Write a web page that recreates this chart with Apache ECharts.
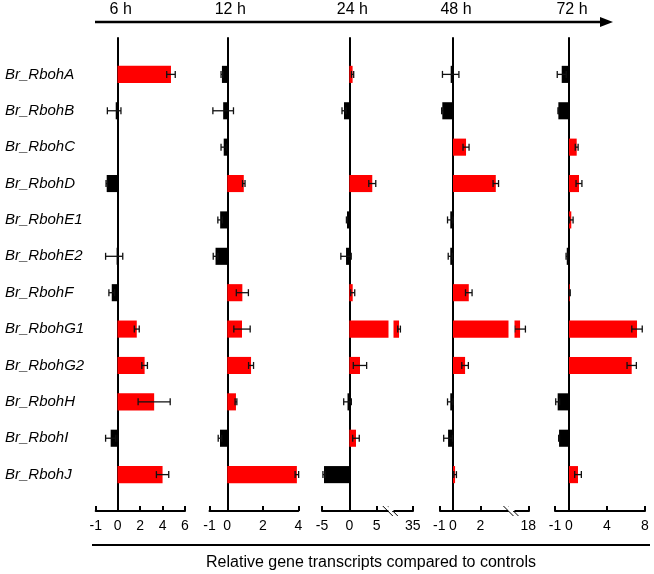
<!DOCTYPE html>
<html><head><meta charset="utf-8">
<script src="https://cdn.jsdelivr.net/npm/echarts@6/dist/echarts.min.js"></script>
<style>html,body{margin:0;padding:0;background:#fff}#c{width:654px;height:574px}</style>
</head><body><div id="c"></div>
<script>
const genes = ['Br_RbohA','Br_RbohB','Br_RbohC','Br_RbohD','Br_RbohE1','Br_RbohE2','Br_RbohF','Br_RbohG1','Br_RbohG2','Br_RbohH','Br_RbohI','Br_RbohJ'];
const timepoints = ['6 h','12 h','24 h','48 h','72 h'];

const val6h  = [4.75, -0.09, 0, -0.5, 0, -0.05, -0.27, 1.7, 2.4, 3.25, -0.32, 4.0];
const err6h  = [0.38, 0.38, 0, 0.03, 0, 0.5, 0.13, 0.22, 0.25, 1.43, 0.23, 0.55];
const val12h = [-0.3, -0.23, -0.2, 0.93, -0.4, -0.66, 0.85, 0.83, 1.34, 0.49, -0.41, 3.92];
const err12h = [0.05, 0.58, 0.15, 0.07, 0.13, 0.13, 0.34, 0.46, 0.14, 0.05, 0.1, 0.1];
const val24h = [0.6, -0.97, 0, 4.2, -0.43, -0.6, 0.62, 32.5, 1.95, -0.33, 1.22, -4.63];
const err24h = [0.2, 0.37, 0, 0.64, 0.1, 0.95, 0.37, 0.25, 1.22, 0.7, 0.6, 0.2];
const val48h = [-0.17, -0.78, 0.95, 3.12, -0.2, -0.2, 1.15, 17.4, 0.88, -0.2, -0.36, 0.15];
const err48h = [0.6, 0.05, 0.22, 0.2, 0.2, 0.15, 0.24, 0.39, 0.24, 0.2, 0.32, 0.1];
const val72h = [-0.52, -0.76, 0.81, 1.05, 0.24, -0.16, 0.08, 7.16, 6.6, -0.81, -0.71, 0.95];
const err72h = [0.32, 0.03, 0.15, 0.31, 0.19, 0.05, 0.05, 0.55, 0.49, 0.14, 0.03, 0.35];

const ticks6h  = [-1, 0, 2, 4, 6];
const ticks12h = [-1, 0, 2, 4];
const ticks24h = [-5, 0, 5, 35];
const ticks48h = [-1, 0, 2, 18];
const ticks72h = [-1, 0, 4, 8];

const xTitle = 'Relative gene transcripts compared to controls';

const values = [val6h, val12h, val24h, val48h, val72h];
const errors = [err6h, err12h, err24h, err48h, err72h];
const ticks = [ticks6h, ticks12h, ticks24h, ticks48h, ticks72h];

// layout per panel (pixel extents); "split" panels use a separate segment for the negative side
const panels = [
  {split: true, negLeft: 95.7, zero: 117.7, right: 185},
  {left: 209.5, right: 298.3},
  {left: 322, right: 412.7, breaks: [{start: 7.05, end: 31.35, gap: 0.9}]},
  {left: 439.3, right: 528.3, breaks: [{start: 4.0, end: 16.96, gap: 0.45}]},
  {split: true, negLeft: 555, zero: 569, right: 645}
];

const FONT = '"Liberation Sans", Arial, sans-serif';
const RED = '#ff0000', BLACK = '#000000';
const BAR_H = 0.47;
const GRID_TOP = 38, GRID_H = 473;
const LABEL_X = 5;

function barItem(params, api) {
  const v = api.value(0), idx = api.value(1);
  const p0 = api.coord([0, idx]);
  const p1 = api.coord([v, idx]);
  const h = api.size([0, BAR_H])[1];
  return {
    type: 'rect',
    shape: {x: Math.min(p0[0], p1[0]), y: p0[1] - h / 2, width: Math.abs(p1[0] - p0[0]), height: h},
    style: {fill: v >= 0 ? RED : BLACK}
  };
}
function errItem(params, api) {
  const v = api.value(0), idx = api.value(1), e = api.value(2);
  if (!e) return null;
  const a = api.coord([v - e, idx]);
  const b = api.coord([v + e, idx]);
  const y = a[1], c = 3.5;
  const st = {stroke: '#111', lineWidth: 1.3};
  return {
    type: 'group',
    children: [
      {type: 'line', shape: {x1: a[0], y1: y, x2: b[0], y2: y}, style: st},
      {type: 'line', shape: {x1: a[0], y1: y - c, x2: a[0], y2: y + c}, style: st},
      {type: 'line', shape: {x1: b[0], y1: y - c, x2: b[0], y2: y + c}, style: st}
    ]
  };
}

const grid = [], xAxis = [], yAxis = [], series = [];
const zeroAxisIndex = [];
const breakAxes = [];

function addSegment(opts) {
  const gi = grid.length;
  grid.push({left: opts.left, width: opts.right - opts.left, top: GRID_TOP, height: GRID_H});
  const xa = {
    type: 'value', gridIndex: gi, min: opts.min, max: opts.max,
    axisLine: {onZero: false, lineStyle: {color: '#000', width: 2}},
    axisTick: {inside: true, length: 5, lineStyle: {color: '#000', width: 2}, customValues: opts.ticks},
    axisLabel: {customValues: opts.ticks, color: '#000', fontSize: 14, fontFamily: FONT, margin: 8},
    splitLine: {show: false}
  };
  if (opts.breaks) {
    xa.breaks = opts.breaks;
    xa.breakArea = {show: true, itemStyle: {color: '#fff', borderColor: '#fff', borderWidth: 0, opacity: 1}, zigzagAmplitude: 0, zigzagZ: 100, expandOnClick: false};
    breakAxes.push({axis: gi, brk: opts.breaks[0]});
  }
  xAxis.push(xa);
  yAxis.push({
    type: 'value', gridIndex: gi, min: -1, max: 12, inverse: true,
    axisLine: {show: opts.zeroLine, onZero: opts.zeroLine, lineStyle: {color: '#000', width: 2}},
    axisTick: {show: false},
    axisLabel: opts.geneLabels ? {
      customValues: genes.map((g, k) => k),
      formatter: v => genes[v] || '',
      align: 'left',
      color: '#000', fontSize: 15, fontStyle: 'italic', fontFamily: FONT, margin: opts.left - LABEL_X
    } : {show: false},
    splitLine: {show: false}
  });
  const d = opts.values.map((v, k) => [v, k, opts.errors[k]]);
  series.push({type: 'custom', xAxisIndex: gi, yAxisIndex: gi, renderItem: barItem, data: d, encode: {x: 0, y: 1}, clip: opts.clip, z: 2});
  series.push({type: 'custom', xAxisIndex: gi, yAxisIndex: gi, renderItem: errItem, data: d, encode: {x: 0, y: 1}, clip: opts.clip, z: 3});
  return gi;
}

panels.forEach((p, i) => {
  const t = ticks[i];
  if (p.split) {
    const negT = t.filter(v => v < 0), posT = t.filter(v => v >= 0);
    addSegment({left: p.negLeft, right: p.zero, min: Math.min(...negT), max: 0, ticks: negT,
      values: values[i], errors: errors[i], clip: true, zeroLine: false, geneLabels: i === 0});
    zeroAxisIndex.push(addSegment({left: p.zero, right: p.right, min: 0, max: Math.max(...posT), ticks: posT,
      values: values[i], errors: errors[i], clip: true, zeroLine: true, geneLabels: false}));
  } else {
    zeroAxisIndex.push(addSegment({left: p.left, right: p.right, min: t[0], max: t[t.length - 1], ticks: t, breaks: p.breaks,
      values: values[i], errors: errors[i], clip: false, zeroLine: true, geneLabels: i === 0}));
  }
});

const chart = echarts.init(document.getElementById('c'), null, {renderer: 'canvas'});
chart.setOption({
  animation: false,
  backgroundColor: '#fff',
  grid, xAxis, yAxis, series
});

// decorations: timeline arrow, time labels, bottom line, axis title, break marks
const g = [];
g.push({type: 'line', shape: {x1: 95, y1: 22, x2: 604, y2: 22}, style: {stroke: '#000', lineWidth: 2.5}});
g.push({type: 'polygon', shape: {points: [[613, 22], [600, 17], [600, 27]]}, style: {fill: '#000'}});
timepoints.forEach((t, i) => {
  const zx = chart.convertToPixel({xAxisIndex: zeroAxisIndex[i]}, 0);
  g.push({type: 'text', x: zx + 3, y: 10, style: {text: t, fill: '#000', font: '16px ' + FONT, align: 'center', verticalAlign: 'middle'}});
});
g.push({type: 'line', shape: {x1: 92, y1: 545, x2: 650, y2: 545}, style: {stroke: '#000', lineWidth: 2}});
g.push({type: 'text', x: 371, y: 563, style: {text: xTitle, fill: '#000', font: '16px ' + FONT, align: 'center', verticalAlign: 'middle'}});
breakAxes.forEach(b => {
  const xa = chart.convertToPixel({xAxisIndex: b.axis}, b.brk.start);
  const xb = chart.convertToPixel({xAxisIndex: b.axis}, b.brk.end);
  const m = (xa + xb) / 2, y = GRID_TOP + GRID_H;
  [-2.5, 2.5].forEach(o => {
    g.push({type: 'line', shape: {x1: m + o - 5, y1: y - 5, x2: m + o + 5, y2: y + 5}, style: {stroke: '#000', lineWidth: 1}});
  });
});
chart.setOption({graphic: {elements: g}});
</script>
</body></html>
